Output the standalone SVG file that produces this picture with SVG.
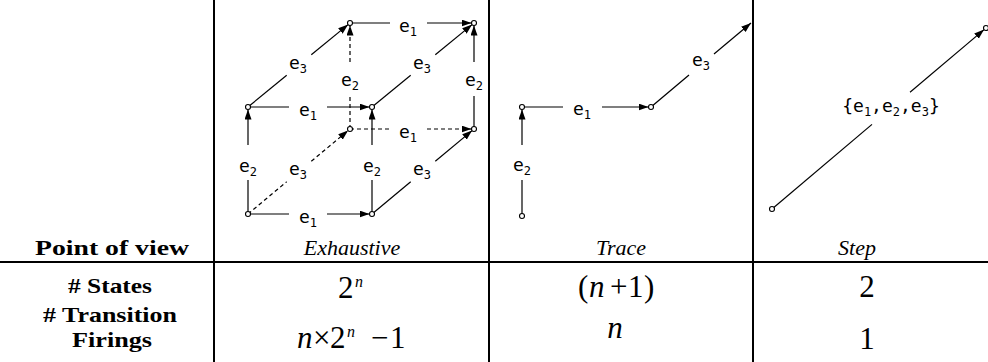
<svg xmlns="http://www.w3.org/2000/svg" width="988" height="362" viewBox="0 0 988 362">
<style>
.edge{stroke:#000;stroke-width:1.2;fill:none}
.dash{stroke-dasharray:4 3}
.node{fill:#fff;stroke:#000;stroke-width:1.1}
.lbl{font-family:"DejaVu Sans Mono",monospace;font-size:18px;fill:#000}
.sub{font-size:12px}
.rule{stroke:#000;stroke-width:2}
.hdr{font-family:"Liberation Serif",serif;font-style:italic;font-size:22px}
.row{font-family:"Liberation Serif",serif;font-weight:bold;font-size:22px}
.val{font-family:"Liberation Serif",serif;font-size:31px}
.it{font-style:italic}
.sup{font-size:16px;font-style:italic}
</style>
<defs>
<marker id="ah" markerWidth="11" markerHeight="8" refX="10" refY="3.5" orient="auto" markerUnits="userSpaceOnUse"><path d="M0,0 L10,3.5 L0,7 z" fill="#000"/></marker>
</defs>
<rect width="988" height="362" fill="#fff"/>
<g id="table">
<line class="rule" x1="214" y1="0" x2="214" y2="362"/>
<line class="rule" x1="489" y1="0" x2="489" y2="362"/>
<line class="rule" x1="753" y1="0" x2="753" y2="362"/>
<line class="rule" x1="0" y1="262" x2="988" y2="262"/>
<text class="row" x="112" y="255" text-anchor="middle" textLength="154" lengthAdjust="spacingAndGlyphs">Point of view</text>
<text class="hdr" x="352" y="255" text-anchor="middle">Exhaustive</text>
<text class="hdr" x="621" y="255" text-anchor="middle">Trace</text>
<text class="hdr" x="857" y="255" text-anchor="middle">Step</text>
<text class="row" x="110" y="293" text-anchor="middle" textLength="84" lengthAdjust="spacingAndGlyphs"># States</text>
<text class="row" x="110" y="322" text-anchor="middle" textLength="134" lengthAdjust="spacingAndGlyphs"># Transition</text>
<text class="row" x="112" y="347" text-anchor="middle" textLength="80" lengthAdjust="spacingAndGlyphs">Firings</text>
<text class="val" x="338" y="298">2<tspan class="sup" x="355" y="287">n</tspan></text>
<text class="val" y="348"><tspan class="it" x="297">n</tspan><tspan x="313">×</tspan><tspan x="330">2</tspan><tspan class="sup" x="347" y="337">n</tspan><tspan x="371" y="348">−</tspan><tspan x="390">1</tspan></text>
<text class="val" x="578" y="297">(<tspan class="it" x="589">n</tspan><tspan x="610">+</tspan><tspan x="628">1</tspan><tspan x="644">)</tspan></text>
<text class="val it" x="615" y="338" text-anchor="middle">n</text>
<text class="val" x="867" y="297" text-anchor="middle">2</text>
<text class="val" x="867" y="349" text-anchor="middle">1</text>
</g>
<g id="connectors">
<line class="edge" x1="248" y1="214" x2="289" y2="214"/><line class="edge" x1="327" y1="214" x2="369.5" y2="214" marker-end="url(#ah)"/>
<line class="edge" x1="248" y1="107" x2="289" y2="107"/><line class="edge" x1="327" y1="107" x2="369.5" y2="107" marker-end="url(#ah)"/>
<line class="edge" x1="350" y1="23" x2="390" y2="23"/><line class="edge" x1="427" y1="23" x2="471.5" y2="23" marker-end="url(#ah)"/>
<line class="edge dash" x1="350" y1="129" x2="390" y2="129"/><line class="edge dash" x1="427" y1="129" x2="471.5" y2="129" marker-end="url(#ah)"/>
<line class="edge" x1="248" y1="214" x2="248" y2="180"/><line class="edge" x1="248" y1="145" x2="248" y2="109.5" marker-end="url(#ah)"/>
<line class="edge" x1="372" y1="214" x2="372" y2="180"/><line class="edge" x1="372" y1="145" x2="372" y2="109.5" marker-end="url(#ah)"/>
<line class="edge dash" x1="350" y1="129" x2="350" y2="96"/><line class="edge dash" x1="350" y1="62" x2="350" y2="25.5" marker-end="url(#ah)"/>
<line class="edge" x1="474" y1="129" x2="474" y2="96"/><line class="edge" x1="474" y1="62" x2="474" y2="25.5" marker-end="url(#ah)"/>
<line class="edge dash" x1="248" y1="214" x2="286.7" y2="181.7"/><line class="edge dash" x1="311.3" y1="161.3" x2="348.1" y2="130.6" marker-end="url(#ah)"/>
<line class="edge" x1="372" y1="214" x2="410.7" y2="181.7"/><line class="edge" x1="435.3" y1="161.3" x2="472.1" y2="130.6" marker-end="url(#ah)"/>
<line class="edge" x1="248" y1="107" x2="286.7" y2="75.2"/><line class="edge" x1="311.3" y1="54.8" x2="348.1" y2="24.6" marker-end="url(#ah)"/>
<line class="edge" x1="372" y1="107" x2="410.7" y2="75.2"/><line class="edge" x1="435.3" y1="54.8" x2="472.1" y2="24.6" marker-end="url(#ah)"/>
<g class="lbl" text-anchor="middle">
<text x="308" y="223">e<tspan class="sub" dy="4">1</tspan></text>
<text x="308" y="116">e<tspan class="sub" dy="4">1</tspan></text>
<text x="408" y="32">e<tspan class="sub" dy="4">1</tspan></text>
<text x="408" y="138">e<tspan class="sub" dy="4">1</tspan></text>
<text x="248" y="172">e<tspan class="sub" dy="4">2</tspan></text>
<text x="372" y="172">e<tspan class="sub" dy="4">2</tspan></text>
<text x="350" y="86">e<tspan class="sub" dy="4">2</tspan></text>
<text x="474" y="86">e<tspan class="sub" dy="4">2</tspan></text>
<text x="298" y="175">e<tspan class="sub" dy="4">3</tspan></text>
<text x="422" y="175">e<tspan class="sub" dy="4">3</tspan></text>
<text x="298" y="69">e<tspan class="sub" dy="4">3</tspan></text>
<text x="422" y="69">e<tspan class="sub" dy="4">3</tspan></text>
</g>
<line class="edge" x1="522" y1="216" x2="522" y2="180"/><line class="edge" x1="522" y1="145" x2="522" y2="109.5" marker-end="url(#ah)"/>
<line class="edge" x1="522" y1="107" x2="563" y2="107"/><line class="edge" x1="602" y1="107" x2="648.5" y2="107" marker-end="url(#ah)"/>
<line class="edge" x1="651" y1="107" x2="689" y2="75"/><line class="edge" x1="714" y1="54" x2="751" y2="23" marker-end="url(#ah)"/>
<g class="lbl" text-anchor="middle">
<text x="522" y="171">e<tspan class="sub" dy="4">2</tspan></text>
<text x="582" y="115">e<tspan class="sub" dy="4">1</tspan></text>
<text x="701" y="66">e<tspan class="sub" dy="4">3</tspan></text>
</g>
<line class="edge" x1="772" y1="209" x2="872" y2="124.4"/><line class="edge" x1="910" y1="92.3" x2="984.1" y2="29.6" marker-end="url(#ah)"/>
<text class="lbl" x="891" y="112" text-anchor="middle" font-size="17">{e<tspan class="sub" dy="4">1</tspan><tspan dy="-4">,e</tspan><tspan class="sub" dy="4">2</tspan><tspan dy="-4">,e</tspan><tspan class="sub" dy="4">3</tspan><tspan dy="-4">}</tspan></text>
</g>
<g id="n-fbl"><circle class="node" cx="248" cy="214" r="2.5"/></g>
<g id="n-fbr"><circle class="node" cx="372" cy="214" r="2.5"/></g>
<g id="n-ftl"><circle class="node" cx="248" cy="107" r="2.5"/></g>
<g id="n-ftr"><circle class="node" cx="372" cy="107" r="2.5"/></g>
<g id="n-bbl"><circle class="node" cx="350" cy="129" r="2.5"/></g>
<g id="n-bbr"><circle class="node" cx="474" cy="129" r="2.5"/></g>
<g id="n-btl"><circle class="node" cx="350" cy="23" r="2.5"/></g>
<g id="n-btr"><circle class="node" cx="474" cy="23" r="2.5"/></g>
<g id="t-a"><circle class="node" cx="522" cy="216" r="2.5"/></g>
<g id="t-b"><circle class="node" cx="522" cy="107" r="2.5"/></g>
<g id="t-c"><circle class="node" cx="651" cy="107" r="2.5"/></g>
<g id="s-a"><circle class="node" cx="772" cy="209" r="2.5"/></g>
<g id="s-b"><circle class="node" cx="986" cy="28" r="2.5"/></g>
</svg>
